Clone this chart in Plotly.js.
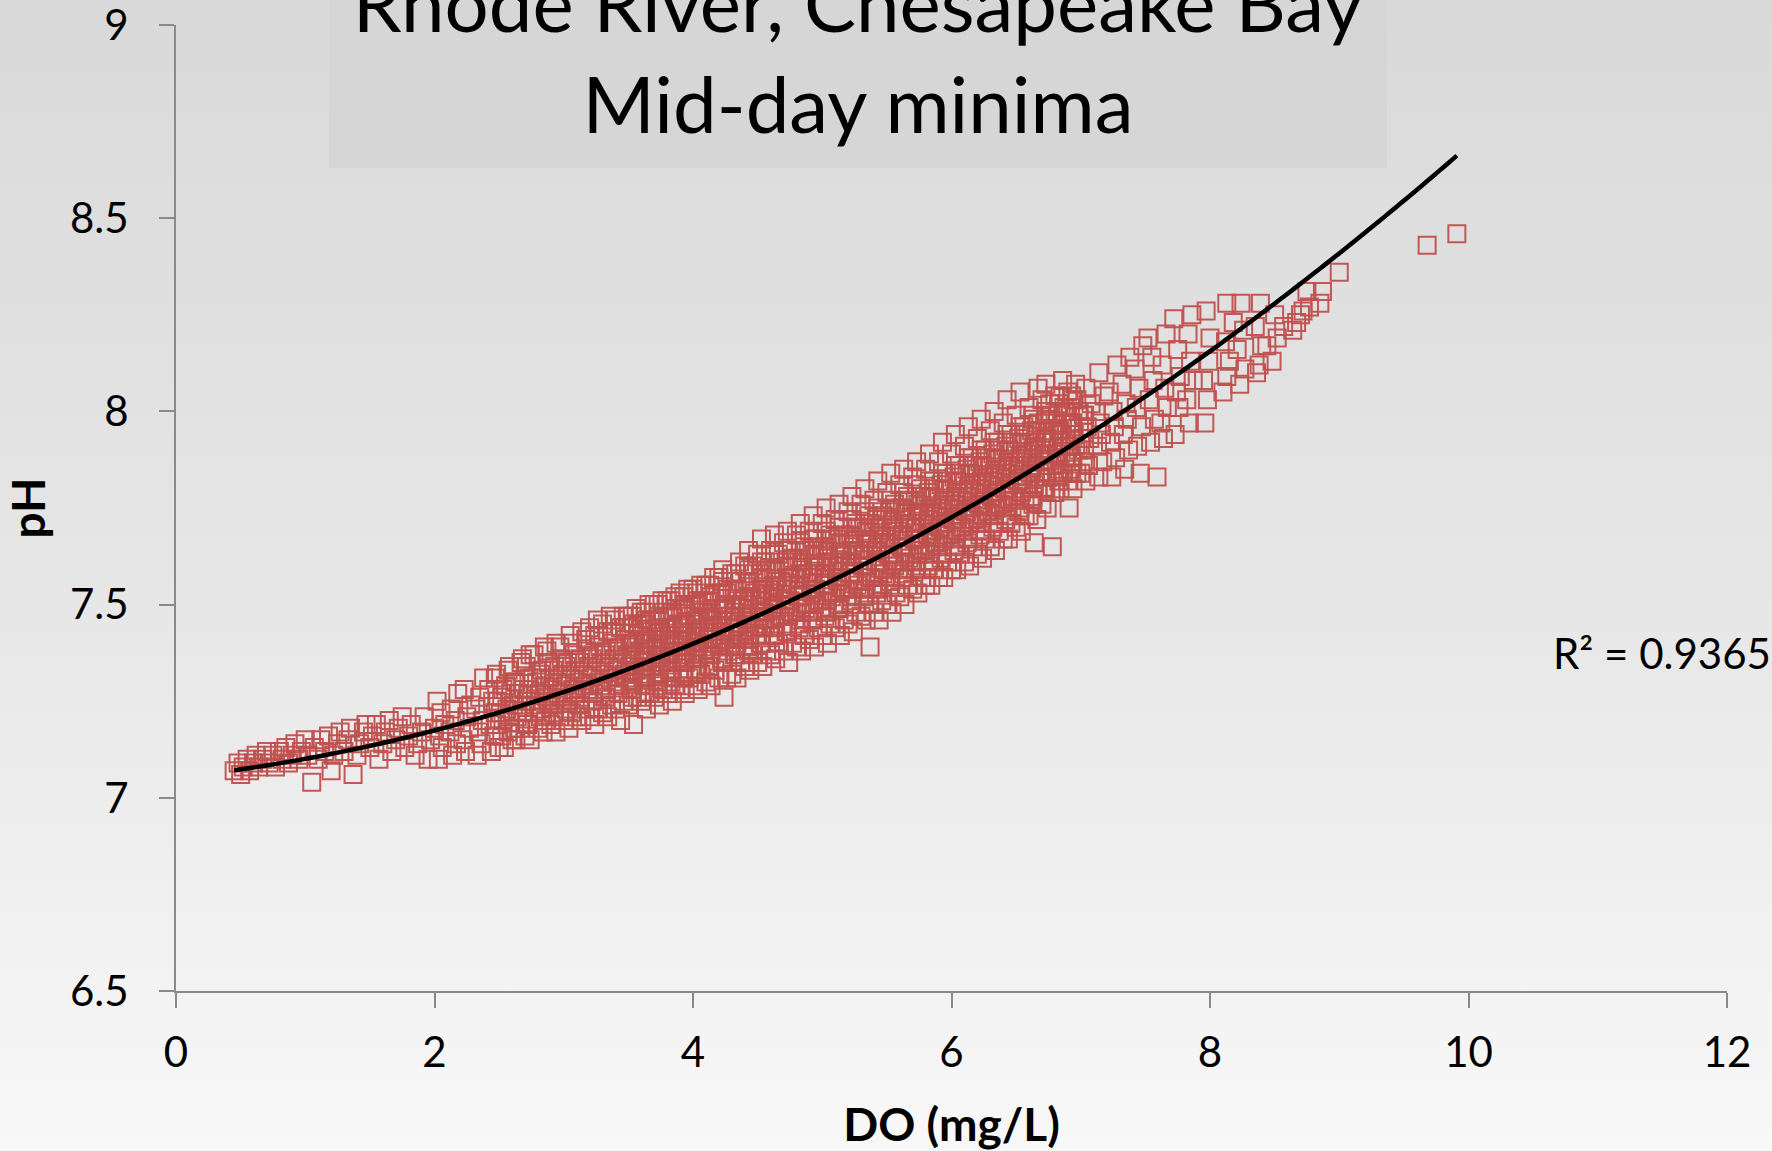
<!DOCTYPE html>
<html>
<head>
<meta charset="utf-8">
<script src="https://cdn.plot.ly/plotly-3.0.1.min.js"></script>
<style>
  html, body { margin: 0; padding: 0; }
  body { width: 1772px; height: 1151px; background: linear-gradient(to bottom, #d9d9d9 0%, #e6e6e6 50%, #f8f8f8 100%); overflow: hidden; }
  #chart { width: 1772px; height: 1151px; }
</style>
</head>
<body>
<div id="chart"></div>
<script>
// ---- Data (DO in mg/L, pH) ----
const doA = [
  0.45,0.48,0.50,0.52,0.55,0.57,0.60,0.62,0.64,0.67,0.70,0.72,0.75,0.77,0.80,0.82,0.85,0.87,0.90,0.92,
  0.95,0.97,1.00,1.02,1.05,1.07,1.10,1.12,1.15,1.18,1.20,1.22,1.25,1.27,1.30,1.33,1.35,1.37,1.40,1.42,
  1.45,1.47,1.50,1.52,1.55,1.57,1.60,1.62,1.65,1.67,1.70,1.72,1.75,1.77,1.80,1.82,1.85,1.87,1.90,1.92,
  1.95,1.97,2.00
];
const phA = [
  7.07,7.09,7.06,7.08,7.10,7.07,7.09,7.11,7.08,7.10,7.12,7.09,7.11,7.08,7.12,7.10,7.13,7.09,7.11,7.14,
  7.10,7.12,7.15,7.11,7.04,7.13,7.10,7.15,7.12,7.16,7.07,7.11,7.14,7.17,7.12,7.15,7.18,7.06,7.11,7.14,
  7.17,7.19,7.13,7.16,7.19,7.10,7.14,7.17,7.20,7.12,7.15,7.18,7.21,7.13,7.16,7.19,7.11,7.14,7.17,7.21,
  7.10,7.15,7.18
];
const doB = [
  2.03,2.06,2.04,2.08,2.05,2.02,
  2.14,2.17,2.12,2.16,2.13,2.18,
  2.24,2.22,2.27,2.25,2.28,2.23,
  2.33,2.36,2.34,2.37,2.32,2.35,2.38,
  2.44,2.46,2.43,2.47,2.45,2.42,2.48,
  2.54,2.57,2.53,2.56,2.52,2.55,2.58,
  2.63,2.66,2.64,2.67,2.65,2.62,2.68,
  2.74,2.72,2.77,2.75,2.73,2.76,2.71,2.74,
  2.84,2.86,2.83,2.87,2.85,2.82,2.88,2.85,
  2.94,2.97,2.93,2.96,2.95,2.92,2.98,2.94,
  3.04,3.06,3.03,3.07,3.05,3.02,3.08,3.05,
  3.14,3.17,3.13,3.16,3.15,3.12,3.18,3.14,
  3.24,3.26,3.23,3.27,3.25,3.22,3.28,3.24,3.26,
  3.34,3.37,3.33,3.36,3.35,3.32,3.38,3.34,3.36,
  3.44,3.46,3.43,3.47,3.45,3.42,3.48,3.44,3.46,
  3.54,3.57,3.53,3.56,3.55,3.52,3.58,3.54,3.56,
  3.64,3.66,3.63,3.67,3.65,3.62,3.68,3.64,3.66,
  3.74,3.77,3.73,3.76,3.75,3.72,3.78,3.74,3.76,
  3.84,3.86,3.83,3.87,3.85,3.82,3.88,3.84,3.86,
  3.94,3.97,3.93,3.96,3.95,3.92,3.98,3.94,3.96,
  4.04,4.06,4.03,4.07,4.05,4.02,4.08,4.04,4.06,
  4.14,4.17,4.13,4.16,4.15,4.12,4.18,4.14,4.16,
  4.24,4.26,4.23,4.27,4.25,4.22,4.28,4.24,4.26,4.23,
  4.34,4.37,4.33,4.36,4.35,4.32,4.38,4.34,4.36,
  4.44,4.46,4.43,4.47,4.45,4.42,4.48,4.44,4.46,4.43
];
const phB = [
  7.10,7.13,7.16,7.19,7.22,7.25,
  7.11,7.14,7.17,7.20,7.23,7.27,
  7.12,7.15,7.18,7.21,7.24,7.28,
  7.11,7.14,7.17,7.20,7.23,7.26,7.31,
  7.12,7.16,7.19,7.22,7.25,7.28,7.32,
  7.13,7.17,7.20,7.23,7.26,7.29,7.34,
  7.15,7.18,7.21,7.24,7.27,7.30,7.36,
  7.15,7.19,7.22,7.25,7.28,7.31,7.34,7.37,
  7.17,7.20,7.23,7.26,7.29,7.32,7.35,7.39,
  7.17,7.21,7.24,7.27,7.30,7.33,7.36,7.40,
  7.18,7.22,7.25,7.28,7.31,7.34,7.37,7.42,
  7.20,7.23,7.26,7.29,7.32,7.35,7.38,7.43,
  7.19,7.23,7.27,7.30,7.33,7.36,7.39,7.42,7.46,
  7.21,7.24,7.28,7.31,7.34,7.37,7.40,7.43,7.47,
  7.20,7.25,7.29,7.32,7.35,7.38,7.41,7.44,7.47,
  7.19,7.26,7.30,7.33,7.36,7.39,7.42,7.45,7.49,
  7.23,7.27,7.31,7.34,7.37,7.40,7.43,7.46,7.50,
  7.24,7.28,7.32,7.35,7.38,7.41,7.44,7.47,7.51,
  7.25,7.29,7.33,7.36,7.39,7.42,7.45,7.48,7.52,
  7.27,7.31,7.35,7.38,7.41,7.44,7.47,7.50,7.54,
  7.28,7.32,7.36,7.39,7.42,7.45,7.48,7.51,7.55,
  7.29,7.33,7.37,7.40,7.43,7.46,7.49,7.52,7.57,
  7.26,7.31,7.35,7.38,7.41,7.44,7.47,7.50,7.53,7.59,
  7.31,7.35,7.39,7.42,7.45,7.48,7.51,7.54,7.61,
  7.33,7.37,7.41,7.44,7.47,7.50,7.53,7.56,7.60,7.64
];
const doC = [
  4.54,4.57,4.53,4.56,4.55,4.52,4.58,4.54,4.56,4.53,
  4.64,4.66,4.63,4.67,4.65,4.62,4.68,4.64,4.66,4.63,
  4.74,4.77,4.73,4.76,4.75,4.72,4.78,4.74,4.76,4.73,
  4.84,4.86,4.83,4.87,4.85,4.82,4.88,4.84,4.86,4.83,
  4.94,4.97,4.93,4.96,4.95,4.92,4.98,4.94,4.96,4.93,
  5.04,5.06,5.03,5.07,5.05,5.02,5.08,5.04,5.06,5.03,
  5.14,5.17,5.13,5.16,5.15,5.12,5.18,5.14,5.16,5.13,
  5.24,5.26,5.23,5.27,5.25,5.22,5.28,5.24,5.26,5.23,
  5.37,5.34,5.36,5.33,5.37,5.35,5.32,5.38,5.34,5.36,5.33,
  5.44,5.46,5.43,5.47,5.45,5.42,5.48,5.44,5.46,5.43,
  5.54,5.57,5.53,5.56,5.55,5.52,5.58,5.54,5.56,5.53,
  5.64,5.66,5.63,5.67,5.65,5.62,5.68,5.64,5.66,5.63,
  5.74,5.77,5.73,5.76,5.75,5.72,5.78,5.74,5.76,5.73,
  5.84,5.86,5.83,5.87,5.85,5.82,5.88,5.84,5.86,5.83,
  5.94,5.97,5.93,5.96,5.95,5.92,5.98,5.94,5.96,5.93,
  6.04,6.06,6.03,6.07,6.05,6.02,6.08,6.04,6.06,6.03,
  6.14,6.17,6.13,6.16,6.15,6.12,6.18,6.14,6.16,6.13,
  6.24,6.26,6.23,6.27,6.25,6.22,6.28,6.24,6.26,6.23,
  6.34,6.37,6.33,6.36,6.35,6.32,6.38,6.34,6.36,6.33,
  6.44,6.46,6.43,6.47,6.45,6.42,6.48,6.44,6.46,6.43,
  6.54,6.57,6.53,6.56,6.55,6.52,6.58,6.54,6.56,6.53,
  6.64,6.66,6.63,6.67,6.65,6.62,6.68,6.64,6.66,6.63,6.67,
  6.78,6.74,6.77,6.73,6.76,6.75,6.72,6.78,6.74,6.76,6.73,
  6.91,6.84,6.86,6.83,6.87,6.85,6.82,6.88,6.84,6.86,
  6.94,6.97,6.93,6.96,6.95,6.92,6.98,6.94,6.96,
  7.04,7.06,7.03,7.07,7.05,7.02,7.08,7.04,
  7.14,7.17,7.13,7.16,7.15,7.12,7.18,7.14
];
const phC = [
  7.34,7.38,7.42,7.45,7.48,7.51,7.54,7.57,7.61,7.67,
  7.36,7.40,7.44,7.47,7.50,7.53,7.56,7.59,7.63,7.68,
  7.35,7.40,7.45,7.48,7.51,7.54,7.57,7.60,7.64,7.69,
  7.38,7.42,7.46,7.49,7.52,7.55,7.58,7.61,7.65,7.71,
  7.39,7.44,7.48,7.51,7.54,7.57,7.60,7.63,7.67,7.73,
  7.40,7.45,7.49,7.52,7.55,7.58,7.61,7.64,7.68,7.75,
  7.42,7.46,7.50,7.54,7.57,7.60,7.63,7.66,7.70,7.76,
  7.43,7.48,7.52,7.55,7.58,7.61,7.64,7.67,7.71,7.78,
  7.39,7.46,7.50,7.54,7.57,7.60,7.63,7.66,7.69,7.73,7.80,
  7.46,7.51,7.55,7.58,7.61,7.64,7.67,7.70,7.74,7.82,
  7.48,7.53,7.57,7.60,7.63,7.66,7.69,7.72,7.76,7.84,
  7.50,7.55,7.59,7.62,7.65,7.68,7.71,7.74,7.78,7.85,
  7.53,7.57,7.61,7.64,7.67,7.70,7.73,7.76,7.80,7.87,
  7.55,7.59,7.63,7.66,7.69,7.72,7.75,7.78,7.82,7.89,
  7.57,7.61,7.65,7.68,7.71,7.74,7.77,7.80,7.84,7.92,
  7.59,7.63,7.67,7.70,7.73,7.76,7.79,7.82,7.86,7.94,
  7.60,7.65,7.69,7.72,7.75,7.78,7.81,7.84,7.88,7.96,
  7.62,7.67,7.71,7.74,7.77,7.80,7.83,7.86,7.90,7.98,
  7.64,7.69,7.73,7.76,7.79,7.82,7.85,7.88,7.92,8.00,
  7.67,7.71,7.75,7.78,7.81,7.84,7.87,7.90,7.94,8.03,
  7.69,7.73,7.77,7.80,7.83,7.86,7.89,7.92,7.96,8.05,
  7.66,7.72,7.76,7.80,7.83,7.86,7.89,7.92,7.95,7.99,8.06,
  7.65,7.75,7.79,7.83,7.86,7.89,7.92,7.95,7.98,8.02,8.07,
  7.75,7.80,7.84,7.88,7.91,7.94,7.97,8.00,8.04,8.08,
  7.80,7.84,7.88,7.91,7.94,7.97,8.00,8.03,8.07,
  7.82,7.86,7.90,7.93,7.96,7.99,8.02,8.06,
  7.83,7.87,7.91,7.94,7.97,8.00,8.04,8.10
];
const doD = [
  7.24,7.27,7.23,7.26,7.25,7.22,7.28,
  7.34,7.37,7.33,7.36,7.35,7.32,7.38,
  7.46,7.44,7.47,7.43,7.45,7.42,7.48,
  7.59,7.54,7.57,7.53,7.56,7.55,7.52,
  7.64,7.62,7.67,7.65,7.63,7.66,
  7.73,7.76,7.74,7.77,7.75,7.72,
  7.84,7.82,7.87,7.85,7.83,7.86,
  7.96,7.98,7.95,7.99,8.00,7.97,
  8.10,8.13,8.15,8.12,8.18,8.13,
  8.23,8.27,8.21,8.26,8.24,
  8.36,8.38,8.40,8.35,8.39,
  8.48,8.44,8.52,8.57,8.50,
  8.64,8.67,8.70,8.77,8.72,
  8.75,8.87,8.85,9.00,9.68,9.91
];
const phD = [
  7.83,7.88,7.92,7.96,8.00,8.05,8.12,
  7.85,7.90,7.94,7.98,8.02,8.07,8.14,
  7.84,7.91,7.96,8.01,8.06,8.11,8.17,
  7.83,7.92,7.98,8.03,8.08,8.14,8.19,
  7.93,7.97,8.01,8.06,8.12,8.20,
  7.94,8.01,8.05,8.09,8.16,8.24,
  7.97,8.03,8.08,8.13,8.20,8.25,
  7.97,8.03,8.08,8.13,8.19,8.26,
  8.05,8.09,8.13,8.18,8.23,8.28,
  8.07,8.11,8.16,8.21,8.28,
  8.10,8.12,8.17,8.22,8.28,
  8.13,8.17,8.19,8.22,8.25,
  8.21,8.23,8.25,8.27,8.26,
  8.31,8.31,8.28,8.36,8.43,8.46
];
// dense core of the cloud, between the columns above
const doE = [
  2.50,2.52,2.48,2.51,2.49,2.53,2.47,
  2.60,2.62,2.58,2.61,2.59,2.63,2.57,
  2.70,2.72,2.68,2.71,2.69,2.73,2.67,
  2.80,2.82,2.78,2.81,2.79,2.83,2.77,
  2.90,2.92,2.88,2.91,2.89,2.93,2.87,
  3.00,3.02,2.98,3.01,2.99,3.03,2.97,
  3.10,3.12,3.08,3.11,3.09,3.13,3.07,
  3.20,3.22,3.18,3.21,3.19,3.23,3.17,3.20,
  3.30,3.32,3.28,3.31,3.29,3.33,3.27,3.30,
  3.40,3.42,3.38,3.41,3.39,3.43,3.37,3.40,
  3.50,3.52,3.48,3.51,3.49,3.53,3.47,3.50,
  3.60,3.62,3.58,3.61,3.59,3.63,3.57,3.60,
  3.70,3.72,3.68,3.71,3.69,3.73,3.67,3.70,
  3.80,3.82,3.78,3.81,3.79,3.83,3.77,3.80,
  3.90,3.92,3.88,3.91,3.89,3.93,3.87,3.90,
  4.00,4.02,3.98,4.01,3.99,4.03,3.97,4.00,
  4.10,4.12,4.08,4.11,4.09,4.13,4.07,4.10,
  4.20,4.22,4.18,4.21,4.19,4.23,4.17,4.20,
  4.30,4.32,4.28,4.31,4.29,4.33,4.27,4.30,
  4.40,4.42,4.38,4.41,4.39,4.43,4.37,4.40,
  4.50,4.52,4.48,4.51,4.49,4.53,4.47,4.50,
  4.60,4.62,4.58,4.61,4.59,4.63,4.57,4.60,
  4.70,4.72,4.68,4.71,4.69,4.73,4.67,4.70,
  4.80,4.82,4.78,4.81,4.79,4.83,4.77,4.80,
  4.90,4.92,4.88,4.91,4.89,4.93,4.87,4.90,
  5.00,5.02,4.98,5.01,4.99,5.03,4.97,5.00,
  5.10,5.12,5.08,5.11,5.09,5.13,5.07,5.10,
  5.20,5.22,5.18,5.21,5.19,5.23,5.17,5.20,
  5.30,5.32,5.28,5.31,5.29,5.33,5.27,5.30,
  5.40,5.42,5.38,5.41,5.39,5.43,5.37,5.40,
  5.50,5.52,5.48,5.51,5.49,5.53,5.47,5.50,
  5.60,5.62,5.58,5.61,5.59,5.63,5.57,5.60,
  5.70,5.72,5.68,5.71,5.69,5.73,5.67,5.70,
  5.80,5.82,5.78,5.81,5.79,5.83,5.77,5.80,
  5.90,5.92,5.88,5.91,5.89,5.93,5.87,5.90,
  6.00,6.02,5.98,6.01,5.99,6.03,5.97,6.00,
  6.10,6.12,6.08,6.11,6.09,6.13,6.07,6.10,
  6.20,6.22,6.18,6.21,6.19,6.23,6.17,6.20,
  6.30,6.32,6.28,6.31,6.29,6.33,6.27,6.30,
  6.40,6.42,6.38,6.41,6.39,6.43,6.37,6.40,
  6.50,6.52,6.48,6.51,6.49,6.53,6.47,6.50,
  6.60,6.62,6.58,6.61,6.59,6.63,6.57,6.60,
  6.70,6.72,6.68,6.71,6.69,6.73,6.67,6.70,
  6.80,6.82,6.78,6.81,6.79,6.83,6.77,6.80,
  6.90,6.92,6.88,6.91,6.89,6.93,6.87,6.90,
  7.00,7.02,6.98,7.01,6.99,7.03,6.97
];
const phE = [
  7.13,7.16,7.19,7.22,7.25,7.28,7.31,
  7.15,7.18,7.21,7.24,7.27,7.30,7.33,
  7.16,7.19,7.22,7.25,7.28,7.31,7.35,
  7.18,7.21,7.24,7.27,7.30,7.33,7.37,
  7.19,7.22,7.25,7.28,7.31,7.34,7.38,
  7.20,7.23,7.26,7.29,7.32,7.35,7.39,
  7.21,7.24,7.27,7.30,7.33,7.36,7.40,
  7.21,7.25,7.28,7.31,7.34,7.37,7.41,7.44,
  7.22,7.26,7.29,7.32,7.35,7.38,7.42,7.45,
  7.23,7.27,7.30,7.33,7.36,7.39,7.43,7.46,
  7.24,7.28,7.31,7.34,7.37,7.40,7.44,7.47,
  7.25,7.29,7.32,7.35,7.38,7.41,7.45,7.48,
  7.26,7.30,7.34,7.37,7.40,7.43,7.46,7.50,
  7.27,7.31,7.35,7.38,7.41,7.44,7.48,7.51,
  7.28,7.32,7.36,7.39,7.42,7.45,7.49,7.53,
  7.29,7.33,7.37,7.40,7.43,7.46,7.50,7.54,
  7.30,7.34,7.38,7.41,7.44,7.47,7.51,7.55,
  7.31,7.36,7.40,7.43,7.46,7.49,7.53,7.57,
  7.32,7.37,7.41,7.44,7.47,7.50,7.54,7.58,
  7.34,7.39,7.43,7.46,7.49,7.52,7.56,7.60,
  7.35,7.40,7.44,7.48,7.51,7.54,7.58,7.63,
  7.37,7.42,7.46,7.49,7.52,7.55,7.59,7.64,
  7.38,7.43,7.47,7.51,7.54,7.57,7.61,7.66,
  7.39,7.44,7.48,7.52,7.55,7.58,7.62,7.68,
  7.41,7.46,7.50,7.54,7.57,7.60,7.64,7.69,
  7.42,7.47,7.51,7.55,7.58,7.61,7.65,7.71,
  7.44,7.49,7.53,7.57,7.60,7.63,7.67,7.72,
  7.45,7.50,7.54,7.58,7.61,7.64,7.68,7.74,
  7.47,7.52,7.56,7.60,7.63,7.66,7.70,7.76,
  7.48,7.53,7.57,7.61,7.64,7.67,7.71,7.77,
  7.50,7.55,7.59,7.63,7.66,7.69,7.73,7.79,
  7.52,7.57,7.61,7.65,7.68,7.71,7.75,7.81,
  7.54,7.59,7.63,7.67,7.70,7.73,7.77,7.83,
  7.55,7.60,7.64,7.68,7.71,7.74,7.78,7.85,
  7.57,7.62,7.66,7.70,7.73,7.76,7.80,7.87,
  7.59,7.64,7.68,7.72,7.75,7.78,7.82,7.89,
  7.61,7.66,7.70,7.74,7.77,7.80,7.84,7.91,
  7.63,7.68,7.72,7.76,7.79,7.82,7.86,7.93,
  7.65,7.70,7.74,7.78,7.81,7.84,7.88,7.95,
  7.67,7.72,7.76,7.80,7.83,7.86,7.90,7.97,
  7.70,7.74,7.78,7.82,7.85,7.88,7.92,7.99,
  7.73,7.77,7.81,7.84,7.87,7.90,7.94,8.01,
  7.76,7.80,7.84,7.87,7.90,7.93,7.97,8.03,
  7.79,7.83,7.86,7.89,7.92,7.95,7.99,8.04,
  7.82,7.85,7.88,7.91,7.94,7.97,8.01,8.05,
  7.84,7.87,7.90,7.93,7.96,7.99,8.03
];
// most crowded part of the cloud (DO 3.5 - 7)
const doF = [
  3.53,3.54,3.52,3.53,3.54,3.52,3.53,
  3.63,3.64,3.62,3.63,3.64,3.62,3.63,
  3.73,3.74,3.72,3.73,3.74,3.72,3.73,
  3.83,3.84,3.82,3.83,3.84,3.82,3.83,
  3.93,3.94,3.92,3.93,3.94,3.92,3.93,
  4.03,4.04,4.02,4.03,4.04,4.02,4.03,
  4.13,4.14,4.12,4.13,4.14,4.12,4.13,
  4.23,4.24,4.22,4.23,4.24,4.22,4.23,
  4.33,4.34,4.32,4.33,4.34,4.32,4.33,
  4.43,4.44,4.42,4.43,4.44,4.42,4.43,
  4.53,4.54,4.52,4.53,4.54,4.52,4.53,
  4.63,4.64,4.62,4.63,4.64,4.62,4.63,
  4.73,4.74,4.72,4.73,4.74,4.72,4.73,
  4.83,4.84,4.82,4.83,4.84,4.82,4.83,
  4.93,4.94,4.92,4.93,4.94,4.92,4.93,
  5.03,5.04,5.02,5.03,5.04,5.02,5.03,
  5.13,5.14,5.12,5.13,5.14,5.12,5.13,
  5.23,5.24,5.22,5.23,5.24,5.22,5.23,
  5.33,5.34,5.32,5.33,5.34,5.32,5.33,
  5.43,5.44,5.42,5.43,5.44,5.42,5.43,
  5.53,5.54,5.52,5.53,5.54,5.52,5.53,
  5.63,5.64,5.62,5.63,5.64,5.62,5.63,
  5.73,5.74,5.72,5.73,5.74,5.72,5.73,
  5.83,5.84,5.82,5.83,5.84,5.82,5.83,
  5.93,5.94,5.92,5.93,5.94,5.92,5.93,
  6.03,6.04,6.02,6.03,6.04,6.02,6.03,
  6.13,6.14,6.12,6.13,6.14,6.12,6.13,
  6.23,6.24,6.22,6.23,6.24,6.22,6.23,
  6.33,6.34,6.32,6.33,6.34,6.32,6.33,
  6.43,6.44,6.42,6.43,6.44,6.42,6.43,
  6.53,6.54,6.52,6.53,6.54,6.52,6.53,
  6.63,6.64,6.62,6.63,6.64,6.62,6.63,
  6.73,6.74,6.72,6.73,6.74,6.72,6.73,
  6.83,6.84,6.82,6.83,6.84,6.82,6.83,
  6.93,6.94,6.92,6.93,6.94,6.92,6.93
];
const phF = [
  7.26,7.30,7.33,7.37,7.40,7.44,7.47,
  7.27,7.31,7.34,7.38,7.41,7.45,7.48,
  7.29,7.32,7.36,7.39,7.43,7.46,7.50,
  7.30,7.33,7.37,7.40,7.44,7.47,7.51,
  7.31,7.35,7.38,7.42,7.45,7.49,7.52,
  7.32,7.36,7.39,7.43,7.46,7.50,7.53,
  7.34,7.37,7.41,7.44,7.48,7.51,7.55,
  7.35,7.39,7.42,7.46,7.49,7.53,7.56,
  7.37,7.40,7.44,7.47,7.51,7.54,7.58,
  7.38,7.42,7.45,7.49,7.52,7.56,7.59,
  7.40,7.44,7.47,7.51,7.54,7.58,7.61,
  7.42,7.45,7.49,7.52,7.56,7.59,7.63,
  7.43,7.47,7.50,7.54,7.57,7.61,7.64,
  7.45,7.48,7.52,7.55,7.59,7.62,7.66,
  7.46,7.50,7.53,7.57,7.60,7.64,7.67,
  7.48,7.51,7.55,7.58,7.62,7.65,7.69,
  7.49,7.53,7.56,7.60,7.63,7.67,7.70,
  7.51,7.54,7.58,7.61,7.65,7.68,7.72,
  7.53,7.56,7.60,7.63,7.67,7.70,7.74,
  7.54,7.58,7.61,7.65,7.68,7.72,7.75,
  7.56,7.60,7.63,7.67,7.70,7.74,7.77,
  7.58,7.61,7.65,7.68,7.72,7.75,7.79,
  7.60,7.63,7.67,7.70,7.74,7.77,7.81,
  7.61,7.65,7.68,7.72,7.75,7.79,7.82,
  7.63,7.67,7.70,7.74,7.77,7.81,7.84,
  7.65,7.69,7.72,7.76,7.79,7.83,7.86,
  7.67,7.71,7.74,7.78,7.81,7.85,7.88,
  7.69,7.73,7.76,7.80,7.83,7.87,7.90,
  7.71,7.75,7.78,7.82,7.85,7.89,7.92,
  7.73,7.77,7.80,7.84,7.87,7.91,7.94,
  7.75,7.79,7.82,7.86,7.89,7.93,7.96,
  7.78,7.81,7.85,7.88,7.91,7.95,7.98,
  7.80,7.83,7.87,7.90,7.93,7.97,8.00,
  7.82,7.85,7.89,7.92,7.95,7.99,8.02,
  7.84,7.87,7.91,7.94,7.97,8.01,8.04
];

// Second-order polynomial trendline, coefficients
// pH = c0 + c1*DO + c2*DO^2
const trendCoef = [7.0528, 0.03513, 0.01284];

const xTicks = [0, 2, 4, 6, 8, 10, 12];
const yTicks = [6.5, 7, 7.5, 8, 8.5, 9];
const titleText = "Rhode River, Chesapeake Bay<br>Mid-day minima";
const xTitle = "DO (mg/L)";
const yTitle = "pH";
const r2Text = "R² = 0.9365";

// ---- Build series ----
const DO = [].concat(doA, doB, doC, doD, doE, doF);
const PH = [].concat(phA, phB, phC, phD, phE, phF);

const xmin = Math.min(...DO), xmax = Math.max(...DO);
const fitX = [], fitY = [];
for (let i = 0; i <= 120; i++) {
  const x = xmin + (xmax - xmin) * i / 120;
  fitX.push(x);
  fitY.push(trendCoef[0] + trendCoef[1] * x + trendCoef[2] * x * x);
}

const FONT = "Lato, 'Open Sans', sans-serif";
const RED = '#c0504d';

const traces = [
  {
    x: DO, y: PH, type: 'scatter', mode: 'markers', name: 'pH',
    marker: { symbol: 'square-open', size: 17, color: RED, opacity: 0.95, line: { width: 2, color: RED } },
    hoverinfo: 'x+y'
  },
  {
    x: fitX, y: fitY, type: 'scatter', mode: 'lines', name: 'Poly. (pH)',
    line: { color: '#000000', width: 4.5, shape: 'spline' }, hoverinfo: 'skip'
  }
];

const layout = {
  width: 1772, height: 1151,
  paper_bgcolor: 'rgba(0,0,0,0)', plot_bgcolor: 'rgba(0,0,0,0)',
  margin: { l: 176, r: 45, t: 25, b: 160, pad: 0 },
  showlegend: false,
  font: { family: FONT, color: '#000000' },
  title: {
    text: titleText,
    font: { family: FONT, size: 78, color: '#000000' },
    x: 858/1772, xanchor: 'center', xref: 'container',
    y: 1 - 32/1151, yanchor: 'bottom', yref: 'container'
  },
  xaxis: {
    range: [0, 12], tickvals: xTicks, ticktext: xTicks.map(String),
    showgrid: false, zeroline: false, showline: true, linecolor: '#8a8a8a', linewidth: 2,
    ticks: 'outside', ticklen: 15, tickwidth: 2, tickcolor: '#8a8a8a',
    tickfont: { family: FONT, size: 42, color: '#000000' }, ticklabelstandoff: 9,
    ticklabeloverflow: 'allow',
    title: { text: xTitle, font: { family: FONT, size: 46, color: '#000000', weight: 'bold' }, standoff: 34 }
  },
  yaxis: {
    range: [6.5, 9], tickvals: yTicks, ticktext: yTicks.map(String),
    showgrid: false, zeroline: false, showline: true, linecolor: '#8a8a8a', linewidth: 2,
    ticks: 'outside', ticklen: 15, tickwidth: 2, tickcolor: '#8a8a8a',
    tickfont: { family: FONT, size: 42, color: '#000000' }, ticklabelstandoff: 22,
    ticklabeloverflow: 'allow',
    title: { text: yTitle, font: { family: FONT, size: 46, color: '#000000', weight: 'bold' }, standoff: 14 }
  },
  shapes: [
    { type: 'rect', xref: 'paper', yref: 'paper', layer: 'below',
      x0: (329-176)/1551, x1: (1387-176)/1551, y0: (991-168)/966, y1: 1.2,
      fillcolor: '#d6d6d6', line: { width: 0 } }
  ],
  annotations: [
    { text: r2Text, xref: 'paper', yref: 'paper', x: (1773-176)/1551, y: (991-653)/966,
      xanchor: 'right', yanchor: 'middle', showarrow: false,
      font: { family: FONT, size: 42, color: '#000000' } }
  ]
};

Plotly.newPlot('chart', traces, layout, { staticPlot: true, displayModeBar: false });
</script>
</body>
</html>
